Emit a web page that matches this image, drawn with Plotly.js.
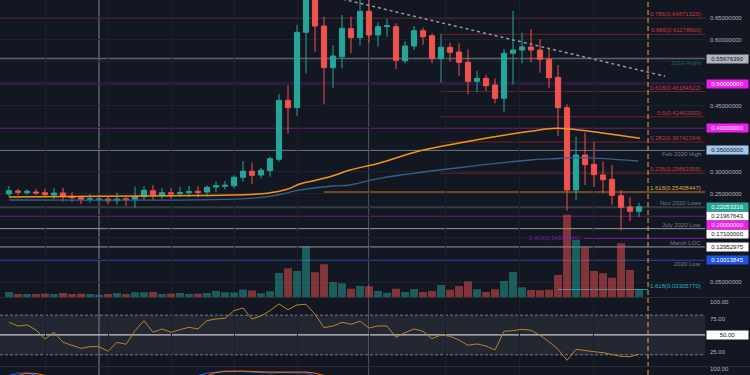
<!DOCTYPE html>
<html><head><meta charset="utf-8">
<script src="https://cdn.plot.ly/plotly-3.0.1.min.js"></script>
<style>html,body{margin:0;padding:0;background:#131722;}#chart{width:750px;height:375px;}</style>
</head><body><div id="chart"></div>
<script>
// ---------- DATA ----------
const weekIndex = Array.from({length: 71}, (_, i) => i);
const openP = [0.2496,0.2564,0.2525,0.2541,0.2525,0.2473,0.2519,0.2444,0.2412,0.2376,0.2367,0.2382,0.2344,0.2389,0.2376,0.2435,0.2571,0.2480,0.2525,0.2503,0.2525,0.2557,0.2541,0.2654,0.2670,0.2684,0.2875,0.3011,0.2927,0.3024,0.3283,0.4621,0.4453,0.6163,0.7200,0.6305,0.5360,0.5609,0.6244,0.6040,0.6639,0.6101,0.6290,0.6290,0.5519,0.5852,0.6199,0.6086,0.5564,0.5822,0.5716,0.5482,0.5051,0.5119,0.4968,0.4666,0.5686,0.5761,0.5829,0.5761,0.5550,0.5142,0.4453,0.2587,0.3380,0.3169,0.2927,0.2829,0.2457,0.2201,0.2104];
const highP = [0.2677,0.2609,0.2602,0.2609,0.2616,0.2632,0.2639,0.2534,0.2457,0.2496,0.2389,0.2435,0.2525,0.2466,0.2661,0.2677,0.2700,0.2632,0.2632,0.2654,0.2677,0.2677,0.2693,0.2791,0.2791,0.2920,0.3244,0.3206,0.3092,0.3342,0.4763,0.4968,0.6328,0.7600,0.7500,0.6516,0.5875,0.6555,0.6516,0.7000,0.6950,0.6389,0.6464,0.6367,0.5965,0.6305,0.6267,0.6140,0.6117,0.5927,0.5913,0.5777,0.5292,0.5194,0.5110,0.5784,0.6646,0.6153,0.6237,0.6004,0.5784,0.5421,0.4530,0.3795,0.3886,0.3682,0.3228,0.3153,0.2587,0.2421,0.2292];
const lowP = [0.2435,0.2473,0.2480,0.2473,0.2435,0.2376,0.2321,0.2315,0.2269,0.2299,0.2360,0.2262,0.2253,0.2224,0.2185,0.2360,0.2344,0.2389,0.2389,0.2435,0.2435,0.2421,0.2435,0.2541,0.2602,0.2625,0.2775,0.2716,0.2852,0.2888,0.3228,0.3863,0.4271,0.5233,0.5723,0.4530,0.4893,0.5346,0.5686,0.5859,0.5920,0.5836,0.6063,0.5330,0.5460,0.5761,0.5875,0.5460,0.5020,0.5496,0.5172,0.4757,0.4815,0.4831,0.4553,0.4348,0.4983,0.5460,0.5482,0.5246,0.4893,0.3811,0.2117,0.2360,0.2700,0.2661,0.2512,0.2246,0.1664,0.1884,0.1974];
const closeP = [0.2571,0.2534,0.2557,0.2519,0.2480,0.2519,0.2450,0.2412,0.2376,0.2389,0.2382,0.2337,0.2382,0.2367,0.2435,0.2580,0.2480,0.2525,0.2496,0.2525,0.2548,0.2534,0.2648,0.2684,0.2693,0.2875,0.3011,0.2920,0.3033,0.3296,0.4621,0.4453,0.6163,0.7200,0.6305,0.5360,0.5625,0.6253,0.6040,0.6639,0.6101,0.6290,0.6312,0.5528,0.5852,0.6199,0.6063,0.5564,0.5822,0.5709,0.5482,0.5051,0.5119,0.4952,0.4666,0.5686,0.5761,0.5829,0.5761,0.5550,0.5133,0.4453,0.2587,0.3380,0.3160,0.2934,0.2820,0.2466,0.2194,0.2104,0.2205];
const volumeM = [50,30,30,30,33,30,40,30,33,30,23,30,40,30,47,47,50,30,33,40,30,33,40,60,47,45,75,65,37,57,240,287,260,507,247,327,150,137,83,110,107,60,43,83,50,80,50,60,120,73,110,157,77,50,77,160,250,97,70,67,73,220,823,570,497,260,237,193,537,270,77];
const rsiValues = [69.2,63.6,65.2,57.6,43.9,54.1,38.9,34.8,29.8,32.3,32.3,25.3,38.9,35.9,56.5,71.7,54.1,59.1,54.1,58.0,61.7,59.1,71.7,74.2,75.3,86.8,90.9,74.2,78.8,86.8,97.0,88.3,95.5,96.5,81.4,61.1,63.6,69.2,66.2,70.8,60.6,63.6,63.6,46.5,53.5,59.1,55.6,44.4,50.0,48.0,42.4,34.4,36.4,33.3,27.3,55.6,56.5,58.6,57.1,49.5,39.8,28.3,11.7,28.3,26.2,24.7,23.2,20.8,17.7,17.1,20.8];
// moving averages, read at points along each curve
const maOrangeIdx = [0,10.1,21.2,26.8,28.7,30.9,32.3,34.2,36,37.9,41.2,45.7,52.3,57.9,60.9,65.7,70.1];
const maOrangeVal = [0.2428,0.2444,0.2462,0.2485,0.2512,0.2602,0.2723,0.2813,0.2911,0.3040,0.3200,0.3478,0.3736,0.3918,0.3986,0.3886,0.3759];
const maBlueIdx = [0,26.8,29.8,32.3,36,37.9,41.2,57.9,60.1,63.1,69.9];
const maBlueVal = [0.2360,0.2398,0.2473,0.2587,0.2677,0.2700,0.2852,0.3267,0.3290,0.3319,0.3244];
// stoch (only the visible tops at the bottom pane)
const stochIdx = [0,1,2,3,4,5,20,21,22,23,24,25,26,27,28,29,30,31,32,33,34,35];
const stochK = [87,92,92,87,null,null,null,87,92,94,96,96,95,93,92,92,93,93,93,92,87,null];
const stochD = [null,87,92,91,87,null,null,null,87,93,95,96,96,95,94,94,94,94,94,94,92,87];
// Fibonacci retracement
const fibNames = ['0.786','0.886','0.618','0.5','0.382','0.236'];
const fibValues = [0.64871320,0.61178600,0.48184622,0.42463393,0.36742164,0.29663355];
const fibStart = [-1,47.9,47.9,47.9,47.9,47.9];
// extensions
const extNames = ['1.618','1.414','1.618'];
const extValues = [0.25408447,0.14918540,0.03305770];
const extStart = [35,63.9,61];
const extEnd = [77.33,77.33,71];
// key named levels
const keyNames = ['2019 Highs','Feb 2020 High','Nov 2020 Lows','July 2020 Low','March LOC','2020 Low'];
const keyValues = [0.55676390,0.35,0.21967643,0.171,0.12952975,0.10013845];
// round number levels
const roundValues = [0.5,0.4,0.2];
const lastPrice = 0.22053316;
// trendline
const trendIdx = [37.1,72.9];
const trendVal = [0.6913,0.5165];
// vertical markers
const markerIdx = [10,40];
const nowIdx = 71;
const priceTicks = [0.05,0.10,0.15,0.20,0.25,0.30,0.35,0.40,0.45,0.50,0.55,0.60,0.65];
const priceTickShown = [true,false,false,false,true,true,false,false,true,false,false,true,true];
const gridWeeks = [4,11,18,25,32,40,48.5,56.7,64.9];

// ---------- STYLE ----------
const FONT = 'Liberation Sans, Arial, sans-serif';
const UP = '#26a69a', DOWN = '#ef5350';
const fibLine = ['#8f2d2f','#6e2429','#6e2429','#6e2429','#6e2429','#6e2429'];
const fibText = '#c2393d';
const extLine = ['#c27c1c','#6a1b9a','#1f9aa8'];
const extText = ['#e0a53a','#7b1fa2','#26b5c5'];
const keyLine = ['#5d606b','#a4c8ea','#363a45','#9598a1','#9598a1','#1f4eb0'];
const keyWidth = [1.5,1.5,2,1,1,1.5];
const keyText = ['#1e625b','#787b86','#787b86','#787b86','#787b86','#787b86'];
const keyPos = ['below','below','above','above','above','below'];
const keyBoxBg = ['#b2b5be','#a4c8ea','#ffffff','#ffffff','#ffffff','#1e53e5'];
const keyBoxFg = ['#131722','#131722','#131722','#131722','#131722','#ffffff'];
const keyBoxShift = [0,0,-8.8,-5.4,0,0];
const roundBoxShift = [0,0,-9];

const volColors = openP.map((o,i) => closeP[i] >= o ? 'rgba(38,166,154,0.5)' : 'rgba(239,83,80,0.5)');

const traces = [
  {type:'bar', x:weekIndex, y:volumeM, yaxis:'y2', marker:{color:volColors, line:{width:0}}, width:0.88, hoverinfo:'skip'},
  {type:'scatter', mode:'lines', x:maBlueIdx, y:maBlueVal, line:{color:'#35608a', width:1.3, shape:'spline'}, hoverinfo:'skip'},
  {type:'scatter', mode:'lines', x:maOrangeIdx, y:maOrangeVal, line:{color:'#f7931a', width:1.5, shape:'spline'}, hoverinfo:'skip'},
  {type:'candlestick', x:weekIndex, open:openP, high:highP, low:lowP, close:closeP,
   increasing:{line:{color:UP, width:1}, fillcolor:UP}, decreasing:{line:{color:DOWN, width:1}, fillcolor:DOWN}, whiskerwidth:0, hoverinfo:'skip'},
  {type:'scatter', mode:'lines', x:weekIndex, y:rsiValues, yaxis:'y3', line:{color:'#b5852e', width:1}, hoverinfo:'skip'},
  {type:'scatter', mode:'lines', x:stochIdx, y:stochK, yaxis:'y4', line:{color:'#2962ff', width:1}, connectgaps:false, hoverinfo:'skip'},
  {type:'scatter', mode:'lines', x:stochIdx, y:stochD, yaxis:'y4', line:{color:'#ff6d00', width:1}, connectgaps:false, hoverinfo:'skip'}
];

const shapes = [];
const annotations = [];
const RIGHT = 77.33;
function hline(x0, x1, y, color, width, dash, layer) {
  shapes.push({type:'line', xref:'x', yref:'y', x0, x1, y0:y, y1:y, line:{color, width, dash:dash||'solid'}, layer:layer||'below'});
}
function sideText(y, text, color, pos) {
  annotations.push({xref:'paper', x:1, xanchor:'right', xshift:-3, yref:'y', y, yanchor: pos==='above'?'bottom':'top',
    text, showarrow:false, font:{family:FONT, size:6, color}, borderpad:0});
}
function boxLabel(yref, y, text, bg, fg, shift) {
  annotations.push({xref:'paper', x:1, xanchor:'left', xshift:1, yref, y, yanchor:'middle', yshift:shift||0,
    text, showarrow:false, bgcolor:bg, font:{family:FONT, size:6, color:fg}, width:40, height:7, align:'center', borderpad:0.5});
}

fibValues.forEach((v,i) => {
  hline(fibStart[i], RIGHT, v, fibLine[i], 1);
  sideText(v, fibNames[i] + '(' + v.toFixed(8) + ')', fibText, 'above');
});
extValues.forEach((v,i) => hline(extStart[i], extEnd[i], v, extLine[i], i===1?1.5:1));
sideText(extValues[0], extNames[0] + '(' + extValues[0].toFixed(8) + ')', extText[0], 'above');
annotations.push({xref:'x', x:extStart[1]-0.3, xanchor:'right', yref:'y', y:extValues[1], yanchor:'middle', text:extNames[1] + '(' + extValues[1].toFixed(8) + ')', showarrow:false, font:{family:FONT, size:6, color:extText[1]}, borderpad:0});
annotations.push({xref:'x', x:extEnd[2], xanchor:'left', xshift:1, yref:'y', y:extValues[2], yanchor:'middle', yshift:3, text:extNames[2] + '(' + extValues[2].toFixed(8) + ')', showarrow:false, font:{family:FONT, size:6, color:extText[2]}, borderpad:0});

keyValues.forEach((v,i) => {
  hline(-1, RIGHT, v, keyLine[i], keyWidth[i]);
  sideText(v, keyNames[i], keyText[i], keyPos[i]);
  boxLabel('y', v, v.toFixed(8), keyBoxBg[i], keyBoxFg[i], keyBoxShift[i]);
});
roundValues.forEach((v,i) => {
  hline(-1, RIGHT, v, '#8e24aa', 1.5);
  boxLabel('y', v, v.toFixed(8), '#f01ef0', '#ffffff', roundBoxShift[i]);
});
boxLabel('y', lastPrice, lastPrice.toFixed(8), '#26a69a', '#ffffff', 0);

// trendline
shapes.push({type:'line', xref:'x', yref:'y', x0:trendIdx[0], x1:trendIdx[1], y0:trendVal[0], y1:trendVal[1], line:{color:'#9598a1', width:1.5, dash:'3px,3px'}, layer:'above'});
// vertical markers
markerIdx.forEach(m => shapes.push({type:'line', xref:'x', yref:'paper', x0:m, x1:m, y0:0, y1:1, line:{color:'#5d606b', width:1.5}, layer:'below'}));
shapes.push({type:'line', xref:'x', yref:'paper', x0:nowIdx, x1:nowIdx, y0:0, y1:1, line:{color:'#c98f52', width:1.2, dash:'5px,3px'}, layer:'above'});
// RSI band + levels
shapes.push({type:'rect', xref:'paper', yref:'y3', x0:0, x1:1, y0:20, y1:80, fillcolor:'rgba(120,123,134,0.16)', line:{width:0}, layer:'below'});
[80,20].forEach(v => shapes.push({type:'line', xref:'paper', yref:'y3', x0:0, x1:1, y0:v, y1:v, line:{color:'#787b86', width:1, dash:'3px,2px'}, layer:'below'}));
shapes.push({type:'line', xref:'paper', yref:'y3', x0:0, x1:1, y0:50, y1:50, line:{color:'#c8cad0', width:1.2}, layer:'below'});
boxLabel('y3', 50, '50.00', '#ffffff', '#131722', 0);
// pane separators
[0.2067, 0.0227].forEach(p => shapes.push({type:'line', xref:'paper', yref:'paper', x0:0, x1:1.07, y0:p, y1:p, line:{color:'#2a2e39', width:1}}));

const layout = {
  width:750, height:375, margin:{l:0, r:45, t:0, b:0},
  paper_bgcolor:'#131722', plot_bgcolor:'#131722', showlegend:false, boxgap:0.18, bargap:0.1,
  font:{family:FONT, size:6, color:'#b2b5be'},
  xaxis:{range:[-1, RIGHT], rangeslider:{visible:false}, showticklabels:false, showgrid:true, gridcolor:'#1c202b',
         tickmode:'array', tickvals:gridWeeks, zeroline:false, showline:false, ticks:''},
  yaxis:{domain:[0.208,1], range:[0.016,0.6895], side:'right', tickmode:'array', tickvals:priceTicks,
         ticktext:priceTicks.map((v,i)=>priceTickShown[i]? v.toFixed(8) : ''), gridcolor:'#1e222d',
         zeroline:false, showline:false, ticks:'', ticklabelstandoff:4, tickfont:{family:FONT, size:6, color:'#b2b5be'}},
  yaxis2:{domain:[0.208,1], overlaying:'y', range:[0,2970], visible:false},
  yaxis3:{domain:[0.024,0.2053], range:[3,106], side:'right', tickmode:'array', tickvals:[25,75,100],
          ticktext:['25.00','75.00','100.00'], showgrid:false, zeroline:false, ticks:'', ticklabelstandoff:4,
          tickfont:{family:FONT, size:6, color:'#b2b5be'}},
  yaxis4:{domain:[0,0.021], range:[88,104], side:'right', tickmode:'array', tickvals:[100], ticktext:['100.00'],
          showgrid:false, zeroline:false, ticks:'', ticklabelstandoff:4, tickfont:{family:FONT, size:6, color:'#b2b5be'}},
  shapes, annotations
};
Plotly.newPlot('chart', traces, layout, {staticPlot:true, displayModeBar:false});
</script></body></html>
